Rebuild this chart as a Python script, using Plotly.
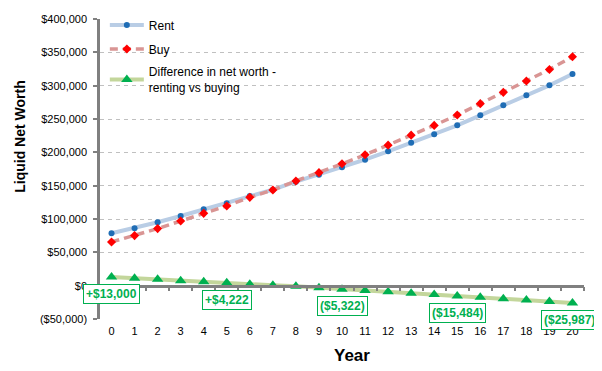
import plotly.graph_objects as go

years = list(range(21))
rent = [78600, 86100, 95100, 104500, 114500, 123800, 134500, 144000, 156000, 166500,
        177500, 189000, 201500, 214500, 227000, 240500, 255500, 270500, 285500, 300500, 317500]
buy = [65600, 75100, 85600, 97000, 108500, 119578, 132500, 143500, 157000, 169500,
       182822, 196300, 210800, 225800, 240400, 255984, 273000, 290000, 307100, 324300, 343487]
diff = [13000, 11000, 9500, 7500, 6000, 4222, 2000, 500, -1000, -3000,
        -5322, -7300, -9300, -11300, -13400, -15484, -17500, -19500, -21600, -23800, -25987]

ann_years = [0, 5, 10, 15, 20]
ann_labels = ["+$13,000", "+$4,222", "($5,322)", "($15,484)", "($25,987)"]
ann_xshift = [0, 0, 0, 0, -3]

y_tickvals = [-50000, 0, 50000, 100000, 150000, 200000, 250000, 300000, 350000, 400000]
y_ticktext = ["($50,000)", "$0", "$50,000", "$100,000", "$150,000", "$200,000",
              "$250,000", "$300,000", "$350,000", "$400,000"]

FONT = "Liberation Sans, Arial, sans-serif"
y_min, y_max = -50000, 400000
x_min, x_max = years[0] - 0.5, years[-1] + 0.5

fig = go.Figure()
# invisible trace to host the zero-crossing tick axis
fig.add_trace(go.Scatter(x=[x_min, x_max], y=[0, 0], xaxis="x2", mode="lines",
                         line=dict(width=0), showlegend=False, hoverinfo="skip"))
fig.add_trace(go.Scatter(
    x=years, y=rent, mode="lines+markers", name="Rent", legend="legend",
    line=dict(color="#B9CDE5", width=4),
    marker=dict(symbol="circle", size=6, color="#1F6DB5"),
))
fig.add_trace(go.Scatter(
    x=years, y=buy, mode="lines+markers", name="Buy", legend="legend2",
    line=dict(color="#D99594", width=3.5, dash="8px,5px"),
    marker=dict(symbol="diamond", size=7, color="#FF0000"),
))
fig.add_trace(go.Scatter(
    x=years, y=diff, mode="lines+markers", name="Difference in net worth -<br>renting vs buying",
    legend="legend3",
    line=dict(color="#C3D69B", width=4),
    marker=dict(symbol="triangle-up", size=10, color="#00B050"),
))

for yr, lab, xs in zip(ann_years, ann_labels, ann_xshift):
    fig.add_annotation(
        x=yr, y=diff[years.index(yr)], text="<b>" + lab + "</b>", showarrow=False,
        yshift=-17, xshift=xs, font=dict(family=FONT, size=12, color="#00B050"),
        bgcolor="white", bordercolor="#00B050", borderwidth=1, borderpad=2,
    )

# axis titles (placed as in the reference, off-centre)
fig.add_annotation(xref="paper", yref="paper", x=-0.167, y=0.608, xanchor="center", yanchor="middle",
                   text="<b>Liquid Net Worth</b>", textangle=-90, showarrow=False,
                   font=dict(family=FONT, size=14, color="#000000"))
fig.add_annotation(xref="paper", yref="paper", x=0.52, y=-0.123, xanchor="center", yanchor="middle",
                   text="<b>Year</b>", showarrow=False,
                   font=dict(family=FONT, size=17, color="#000000"))

leg_common = dict(x=0.01, xanchor="left", yanchor="middle", bgcolor="rgba(0,0,0,0)",
                  font=dict(family=FONT, size=12, color="#000000"), itemwidth=34)

# page has an 8px body margin; figure is sized so the plot lands where the reference's does
fig.update_layout(
    width=594, height=363,
    margin=dict(l=92, r=18, t=11, b=52, autoexpand=False),
    paper_bgcolor="white", plot_bgcolor="white",
    font=dict(family=FONT, size=11, color="#000000"),
    showlegend=True,
    legend=dict(y=0.98, **leg_common),
    legend2=dict(y=0.90, **leg_common),
    legend3=dict(y=0.797, **leg_common),
    xaxis=dict(
        range=[x_min, x_max], tickvals=years, ticktext=[str(y) for y in years],
        showgrid=False, zeroline=False, showline=False, automargin=False,
        ticks="outside", ticklen=2, tickcolor="rgba(0,0,0,0)",
        tickfont=dict(family=FONT, size=11, color="#000000"),
    ),
    xaxis2=dict(
        overlaying="x", anchor="free", position=(0 - y_min) / (y_max - y_min),
        range=[x_min, x_max], tickvals=[y + 0.5 for y in [-1] + years],
        showticklabels=False, showgrid=False, zeroline=False, automargin=False,
        showline=True, linecolor="#808080", linewidth=2.5,
        ticks="outside", ticklen=4, tickwidth=1.5, tickcolor="#808080",
    ),
    yaxis=dict(
        range=[y_min, y_max], tickvals=y_tickvals, ticktext=y_ticktext,
        showgrid=True, gridcolor="#C0C0C0", griddash="4px,4px", gridwidth=1,
        zeroline=False, showline=True, linecolor="#808080", linewidth=2.5, automargin=False,
        ticks="outside", ticklen=4, tickwidth=1.5, tickcolor="#808080",
        ticklabelstandoff=4,
        tickfont=dict(family=FONT, size=11, color="#000000"),
    ),
)

fig.write_html("out.html")
